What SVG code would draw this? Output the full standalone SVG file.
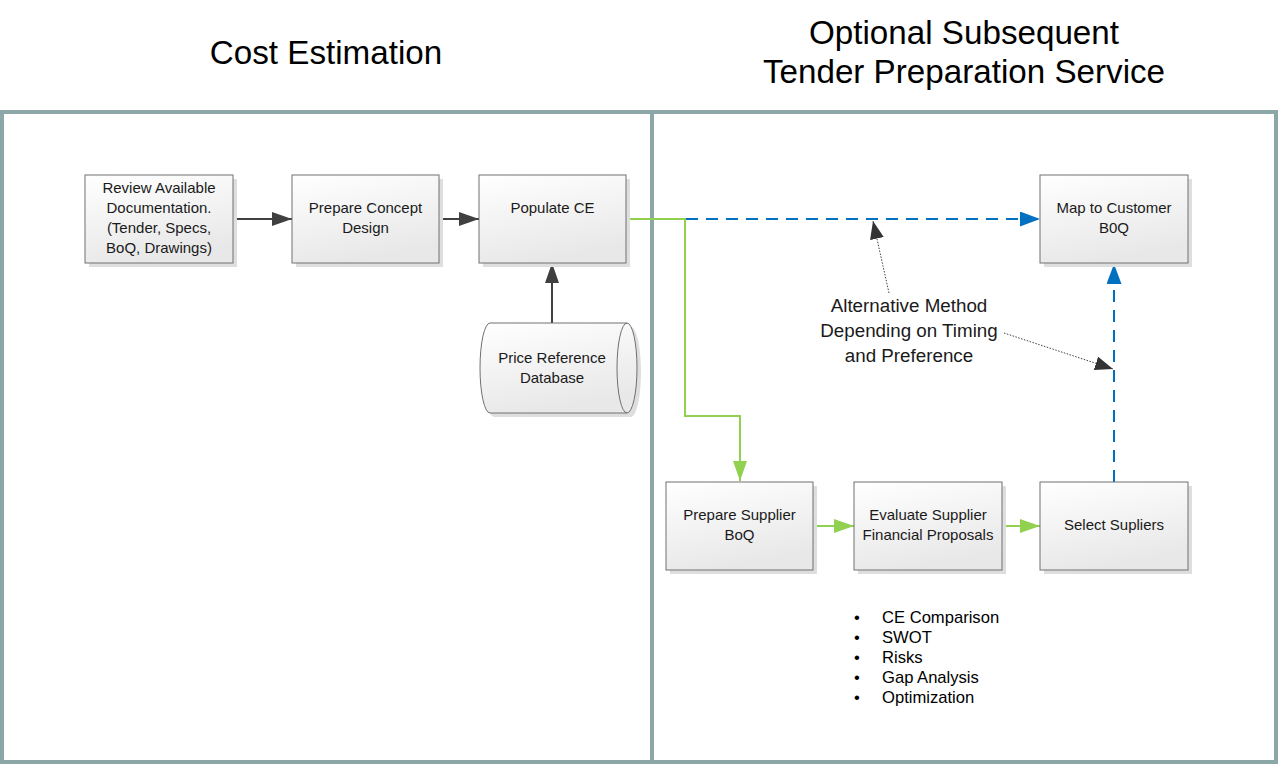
<svg xmlns="http://www.w3.org/2000/svg" width="1279" height="764" viewBox="0 0 1279 764">
<defs>
<linearGradient id="gBox" x1="0" y1="0" x2="0.3" y2="1">
<stop offset="0" stop-color="#FFFFFF"/>
<stop offset="1" stop-color="#E8E8E8"/>
</linearGradient>
<marker id="aDark" viewBox="0 0 20 14" refX="20" refY="7" markerWidth="20" markerHeight="14" markerUnits="userSpaceOnUse" orient="auto">
<path d="M0,0 L20,7 L0,14 Z" fill="#404040"/>
</marker>
<marker id="aGreen" viewBox="0 0 20 14" refX="20" refY="7" markerWidth="20" markerHeight="14" markerUnits="userSpaceOnUse" orient="auto">
<path d="M0,0 L20,7 L0,14 Z" fill="#92D050"/>
</marker>
<marker id="aBlue" viewBox="0 0 20 15" refX="20" refY="7.5" markerWidth="20" markerHeight="15" markerUnits="userSpaceOnUse" orient="auto">
<path d="M0,0 L20,7.5 L0,15 Z" fill="#0070C0"/>
</marker>
<marker id="aNote" viewBox="0 0 18 14" refX="18" refY="7" markerWidth="18" markerHeight="14" markerUnits="userSpaceOnUse" orient="auto">
<path d="M0,0 L18,7 L0,14 Z" fill="#333333"/>
</marker>
</defs>
<style>
.box{fill:url(#gBox);stroke:#707070;stroke-width:1}
.shadow{fill:#DEDEDE}
.lbl{font-family:"Liberation Sans",Arial,sans-serif;font-size:15px;fill:#1a1a1a;text-anchor:middle}
.title{font-family:"Liberation Sans",Arial,sans-serif;font-size:33.2px;fill:#000;text-anchor:middle}
.note{font-family:"Liberation Sans",Arial,sans-serif;font-size:18.8px;fill:#1a1a1a;text-anchor:middle}
.bul{font-family:"Liberation Sans",Arial,sans-serif;font-size:16.6px;fill:#000}
.frame{fill:none;stroke:#8BA7A7;stroke-width:4}
.dark{fill:none;stroke:#404040;stroke-width:2}
.green{fill:none;stroke:#92D050;stroke-width:2}
.blue{fill:none;stroke:#0070C0;stroke-width:2;stroke-dasharray:12 8}
.dot{fill:none;stroke:#404040;stroke-width:1;stroke-dasharray:1.5 1.5}
</style>
<rect width="1279" height="764" fill="#FFFFFF"/>

<g id="titles">
<text class="title" x="326" y="64">Cost Estimation</text>
<text class="title" x="964" y="44">Optional Subsequent</text>
<text class="title" x="964" y="83">Tender Preparation Service</text>
</g>

<g id="frame">
<rect class="frame" x="2" y="112" width="1274" height="650"/>
<line class="frame" x1="652" y1="112" x2="652" y2="762"/>
</g>

<g id="connectors">
<line class="dark" x1="233" y1="219" x2="292" y2="219" marker-end="url(#aDark)"/>
<line class="dark" x1="439" y1="219" x2="479" y2="219" marker-end="url(#aDark)"/>
<line class="dark" x1="552" y1="323" x2="552" y2="263" marker-end="url(#aDark)"/>
<path class="blue" d="M686,219 L1040,219" marker-end="url(#aBlue)"/>
<path class="blue" d="M1114,482 L1114,264" marker-end="url(#aBlue)"/>
<path class="green" d="M626,219 L685,219 L685,416 L740,416 L740,481" marker-end="url(#aGreen)"/>
<line class="green" x1="813" y1="526" x2="854" y2="526" marker-end="url(#aGreen)"/>
<line class="green" x1="1002" y1="526" x2="1040" y2="526" marker-end="url(#aGreen)"/>
<line class="dot" x1="889" y1="293" x2="873" y2="221" marker-end="url(#aNote)"/>
<line class="dot" x1="1004" y1="333" x2="1113" y2="369" marker-end="url(#aNote)"/>
</g>

<g id="n-review">
<rect class="shadow" x="89" y="179" width="148" height="88"/>
<rect class="box" x="85" y="175" width="148" height="88"/>
<text class="lbl" x="159" y="193">Review Available</text>
<text class="lbl" x="159" y="213">Documentation.</text>
<text class="lbl" x="159" y="233">(Tender, Specs,</text>
<text class="lbl" x="159" y="253">BoQ, Drawings)</text>
</g>

<g id="n-concept">
<rect class="shadow" x="296" y="179" width="147" height="88"/>
<rect class="box" x="292" y="175" width="147" height="88"/>
<text class="lbl" x="365.5" y="213">Prepare Concept</text>
<text class="lbl" x="365.5" y="233">Design</text>
</g>

<g id="n-populate">
<rect class="shadow" x="483" y="179" width="147" height="88"/>
<rect class="box" x="479" y="175" width="147" height="88"/>
<text class="lbl" x="552.5" y="213">Populate CE</text>
</g>

<g id="n-database">
<path class="shadow" d="M494,327 L631,327 A10,45 0 0 1 631,417 L494,417 A10,45 0 0 1 494,327 Z"/>
<path class="box" d="M490,323 L627,323 A10,45 0 0 1 627,413 L490,413 A10,45 0 0 1 490,323 Z"/>
<path d="M627,323 A10,45 0 0 0 627,413" fill="none" stroke="#707070" stroke-width="1"/>
<text class="lbl" x="552" y="363">Price Reference</text>
<text class="lbl" x="552" y="383">Database</text>
</g>

<g id="n-map">
<rect class="shadow" x="1044" y="179" width="148" height="88"/>
<rect class="box" x="1040" y="175" width="148" height="88"/>
<text class="lbl" x="1114" y="213">Map to Customer</text>
<text class="lbl" x="1114" y="233">B0Q</text>
</g>

<g id="n-supplierboq">
<rect class="shadow" x="670" y="486" width="147" height="88"/>
<rect class="box" x="666" y="482" width="147" height="88"/>
<text class="lbl" x="739.5" y="520">Prepare Supplier</text>
<text class="lbl" x="739.5" y="540">BoQ</text>
</g>

<g id="n-evaluate">
<rect class="shadow" x="858" y="486" width="148" height="88"/>
<rect class="box" x="854" y="482" width="148" height="88"/>
<text class="lbl" x="928" y="520">Evaluate Supplier</text>
<text class="lbl" x="928" y="540">Financial Proposals</text>
</g>

<g id="n-select">
<rect class="shadow" x="1044" y="486" width="148" height="88"/>
<rect class="box" x="1040" y="482" width="148" height="88"/>
<text class="lbl" x="1114" y="530">Select Supliers</text>
</g>

<g id="note-alternative">
<text class="note" x="909" y="312">Alternative Method</text>
<text class="note" x="909" y="337">Depending on Timing</text>
<text class="note" x="909" y="362">and Preference</text>
</g>

<g id="note-bullets">
<text class="bul" x="854" y="623">•</text><text class="bul" x="882" y="623">CE Comparison</text>
<text class="bul" x="854" y="643">•</text><text class="bul" x="882" y="643">SWOT</text>
<text class="bul" x="854" y="663">•</text><text class="bul" x="882" y="663">Risks</text>
<text class="bul" x="854" y="683">•</text><text class="bul" x="882" y="683">Gap Analysis</text>
<text class="bul" x="854" y="703">•</text><text class="bul" x="882" y="703">Optimization</text>
</g>
</svg>
